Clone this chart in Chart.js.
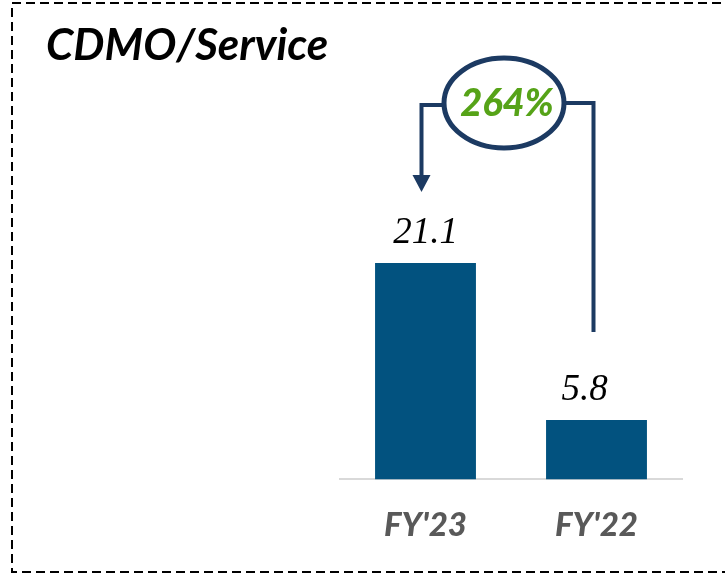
<!DOCTYPE html>
<html>
<head>
<meta charset="utf-8">
<script src="https://cdn.jsdelivr.net/npm/chart.js@4.4.0/dist/chart.umd.min.js"></script>
<style>
  html, body { margin: 0; padding: 0; background: #fff; }
  #wrap { width: 725px; height: 577px; position: relative; }
</style>
</head>
<body>
<div id="wrap"><canvas id="cdmoChart" width="725" height="577"></canvas></div>
<script>
// chart data
var categories = ["FY'23", "FY'22"];
var revenue = [21.1, 5.8];
var valueLabels = ["21.1", "5.8"];
var growthLabel = "264%";
var chartTitle = "CDMO/Service";

var barColor = "#02527f";
var arrowColor = "#1c3a62";

// draws the title, dashed frame, value labels and the growth arrow
var extrasPlugin = {
    id: 'extras',
    afterDraw: function (chart) {
        var ctx = chart.ctx;
        var meta = chart.getDatasetMeta(0);
        var labelShift = [0, -12];

        ctx.save();

        // dashed frame
        ctx.strokeStyle = '#000';
        ctx.lineWidth = 2;
        ctx.setLineDash([9, 5]);
        ctx.strokeRect(12, 3, 740, 569);
        ctx.setLineDash([]);

        // title
        ctx.fillStyle = '#000';
        ctx.font = 'italic bold 44px Lato';
        ctx.textBaseline = 'middle';
        ctx.textAlign = 'left';
        ctx.fillText(chartTitle, 46, 46);

        // value labels above bars
        ctx.font = 'italic 37px "Liberation Serif"';
        ctx.textAlign = 'center';
        ctx.textBaseline = 'alphabetic';
        for (var i = 0; i < meta.data.length; i++) {
            var bar = meta.data[i];
            ctx.fillText(valueLabels[i], bar.x + labelShift[i], bar.y - 20);
        }

        // growth arrow from FY'22 up and over to FY'23
        var left = meta.data[0];
        var right = meta.data[1];
        var cx = 504, cy = 103, rx = 60, ry = 45;
        var lx = left.x - 4, rxLine = right.x - 3;

        ctx.strokeStyle = arrowColor;
        ctx.lineWidth = 4;
        ctx.lineJoin = 'miter';
        ctx.beginPath();
        ctx.moveTo(rxLine, right.y - 88);
        ctx.lineTo(rxLine, 103);
        ctx.lineTo(cx + rx, 103);
        ctx.stroke();

        ctx.beginPath();
        ctx.moveTo(cx - rx, 105);
        ctx.lineTo(lx, 105);
        ctx.lineTo(lx, 176);
        ctx.stroke();

        ctx.fillStyle = arrowColor;
        ctx.beginPath();
        ctx.moveTo(lx - 9, 175);
        ctx.lineTo(lx + 9, 175);
        ctx.lineTo(lx, 192);
        ctx.closePath();
        ctx.fill();

        ctx.fillStyle = '#fff';
        ctx.lineWidth = 5;
        ctx.beginPath();
        ctx.ellipse(cx, cy, rx, ry, 0, 0, Math.PI * 2);
        ctx.fill();
        ctx.stroke();

        ctx.fillStyle = '#56a318';
        ctx.font = 'italic 900 38px Lato';
        ctx.textBaseline = 'middle';
        ctx.fillText(growthLabel, cx + 3, cy + 1);

        ctx.restore();
    }
};

var ctx = document.getElementById('cdmoChart').getContext('2d');
var cdmoChart = new Chart(ctx, {
    type: 'bar',
    data: {
        labels: categories,
        datasets: [{
            data: revenue,
            backgroundColor: barColor,
            barPercentage: 0.59,
            categoryPercentage: 1.0
        }]
    },
    options: {
        responsive: false,
        animation: false,
        layout: {
            padding: { left: 340, right: 43, top: 223, bottom: 14 }
        },
        plugins: {
            legend: { display: false },
            tooltip: { enabled: false }
        },
        scales: {
            x: {
                grid: { display: false },
                border: { display: true, color: '#d9d9d9', width: 2 },
                ticks: {
                    color: '#595959',
                    padding: 18,
                    font: { family: 'Lato', size: 33, weight: '900', style: 'italic' }
                }
            },
            y: {
                display: false,
                min: 0,
                max: 25
            }
        }
    },
    plugins: [extrasPlugin]
});
</script>
</body>
</html>
